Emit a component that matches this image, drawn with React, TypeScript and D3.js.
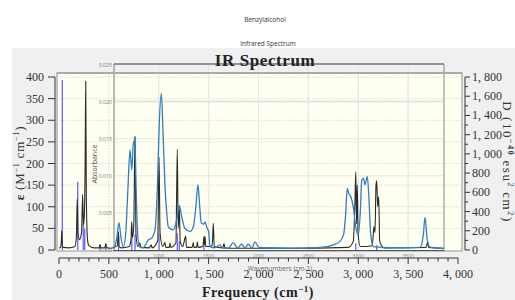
import React from "react";
import * as d3 from "d3";

// ---------- data ----------
// simulated spectrum (black curve), [frequency cm-1, epsilon]
const simCurve: [number, number][] = [
  [0, 4], [15, 6], [23, 18], [27, 45], [31, 18], [40, 6], [100, 5], [160, 8], [174, 30], [183, 118], [191, 38],
  [205, 24], [226, 40], [237, 128], [245, 58], [254, 80], [262, 200], [268, 390], [274, 120], [286, 24], [300, 10],
  [350, 5], [402, 5], [410, 12], [418, 5], [455, 5], [464, 9], [470, 15], [477, 6], [520, 4], [585, 10], [595, 42],
  [603, 8], [625, 5], [705, 8], [722, 25], [729, 65], [737, 28], [750, 60], [762, 262], [771, 40], [790, 8], [812, 16],
  [820, 6], [905, 5], [925, 12], [933, 5], [990, 22], [1003, 215], [1013, 40], [1040, 8], [1063, 17], [1070, 6],
  [1105, 6], [1113, 16], [1120, 6], [1172, 16], [1186, 233], [1195, 50], [1206, 100], [1215, 20], [1240, 8],
  [1270, 32], [1278, 6], [1336, 6], [1346, 17], [1353, 6], [1380, 6], [1387, 19], [1394, 6], [1442, 8], [1454, 31],
  [1459, 12], [1464, 31], [1471, 8], [1536, 10], [1547, 62], [1556, 8], [1642, 5], [1654, 15], [1662, 5], [1720, 4],
  [2300, 4], [2900, 6], [2950, 20], [2968, 120], [2975, 181], [2983, 60], [2990, 150], [2998, 40], [3020, 8],
  [3140, 10], [3158, 54], [3168, 40], [3178, 150], [3185, 160], [3195, 100], [3205, 123], [3215, 20], [3260, 5],
  [3680, 6], [3696, 19], [3705, 6], [3860, 4],
];

// computed transitions (sticks), [frequency cm-1, D 10^-40 esu^2 cm^2]
const stickFreq = [33, 188, 243, 258, 412, 470, 597, 730, 762, 1003, 1186, 1206, 1454, 2975, 3185];
const stickD = [1770, 711, 300, 220, 60, 45, 150, 125, 160, 170, 175, 90, 60, 70, 50];

// experimental absorbance (blue curve), [wavenumber, absorbance]
const expCurve: [number, number][] = [
  [551, 0.0002], [578, 0.0015], [601, 0.0037], [620, 0.0018], [645, 0.00045], [670, 0.0025], [690, 0.008],
  [712, 0.0135], [730, 0.0108], [746, 0.0146], [752, 0.0142], [760, 0.0152], [772, 0.009], [785, 0.0031],
  [805, 0.00045], [845, 0.0003], [870, 0.0008], [895, 0.00135], [929, 0.0016], [962, 0.0027], [985, 0.008],
  [1005, 0.017], [1026, 0.0211], [1045, 0.015], [1063, 0.0085], [1080, 0.005], [1096, 0.0031], [1146, 0.0027],
  [1170, 0.0035], [1186, 0.0045], [1206, 0.006], [1230, 0.0045], [1263, 0.0029], [1313, 0.0025], [1346, 0.0031],
  [1370, 0.0055], [1393, 0.0088], [1410, 0.006], [1427, 0.0036], [1450, 0.0035], [1464, 0.0038], [1480, 0.0031],
  [1500, 0.0025], [1514, 0.00045], [1560, 0.0003], [1590, 0.0005], [1614, 0.0007], [1640, 0.00025], [1700, 0.00025],
  [1747, 0.001], [1790, 0.00025], [1831, 0.0008], [1865, 0.00025], [1898, 0.0008], [1935, 0.00025], [1965, 0.0011],
  [2000, 0.0004], [2100, 0.0003], [2300, 0.00025], [2500, 0.0003], [2617, 0.00035], [2750, 0.0007], [2820, 0.0012],
  [2855, 0.0022], [2872, 0.0045], [2890, 0.0083], [2905, 0.0076], [2925, 0.0072], [2950, 0.0058], [2975, 0.0031],
  [3001, 0.002], [3020, 0.005], [3035, 0.0094], [3051, 0.0097], [3068, 0.0088], [3091, 0.0099], [3108, 0.0067],
  [3124, 0.00225], [3151, 0.00045], [3300, 0.0003], [3500, 0.0003], [3619, 0.00035], [3652, 0.002], [3669, 0.0044],
  [3692, 0.00135], [3719, 0.0004], [3860, 0.0002],
];

const epsTicks = [0, 50, 100, 150, 200, 250, 300, 350, 400];
const dTicks = [0, 200, 400, 600, 800, 1000, 1200, 1400, 1600, 1800];
const freqTicks = [0, 500, 1000, 1500, 2000, 2500, 3000, 3500, 4000];
const absTicks = [0, 0.005, 0.01, 0.015, 0.02, 0.025];
const wnTicks = [1000, 1500, 2000, 2500, 3000, 3500];

// ---------- scales ----------
const x = d3.scaleLinear().domain([0, 4000]).range([59, 458]);
const yE = d3.scaleLinear().domain([0, 400]).range([250, 77]);
const yD = d3.scaleLinear().domain([0, 1800]).range([250, 77]);
const yA = d3.scaleLinear().domain([0, 0.025]).range([250, 64.5]);

const fmtComma = (v: number) => d3.format(",")(v).replace(",", ", ");

const simLine = d3.line<[number, number]>().x((d) => x(d[0])).y((d) => yE(d[1])).curve(d3.curveMonotoneX);
const expLine = d3.line<[number, number]>().x((d) => x(d[0])).y((d) => yA(d[1])).curve(d3.curveMonotoneX);

const SERIF = "'Liberation Serif', 'DejaVu Serif', serif";
const SANS = "'Open Sans', 'Noto Sans', sans-serif";

export default function App() {
  const minorF = d3.range(0, 4001, 100);
  const minorD = d3.range(0, 1801, 100);
  const inner = { l: 114, r: 444, t: 64, b: 251 };
  return (
    <svg width={515} height={300} style={{ position: "absolute", left: 0, top: 0, background: "#fff" }}>
      <rect x={0} y={0} width={515} height={300} fill="#ffffff" />
      <text x={265} y={22} textAnchor="middle" fontFamily={SANS} fontSize={6.5} fill="#333">Benzylalcohol</text>
      <text x={268} y={46} textAnchor="middle" fontFamily={SANS} fontSize={6.5} fill="#333">Infrared Spectrum</text>
      {/* outer panel */}
      <rect x={12} y={48} width={503} height={252} fill="#f0f0f0" />
      <rect x={57} y={73} width={405} height={178} fill="#fffff2" stroke="#b4b4b4" strokeWidth={1.5} />
      {/* outer dotted grid */}
      {epsTicks.slice(1).map((t) => (
        <line key={"ge" + t} x1={57} x2={462} y1={yE(t)} y2={yE(t)} stroke="#cfcfcf" strokeDasharray="1.5,1.5" strokeWidth={0.8} />
      ))}
      {freqTicks.slice(1, -1).map((t) => (
        <line key={"gf" + t} x1={x(t)} x2={x(t)} y1={73} y2={251} stroke="#cfcfcf" strokeDasharray="1.5,1.5" strokeWidth={0.8} />
      ))}
      {/* inner chart grid */}
      {absTicks.slice(1).map((t) => (
        <line key={"ga" + t} x1={inner.l} x2={inner.r} y1={yA(t)} y2={yA(t)} stroke="#e4e4e4" strokeWidth={t === 0.02 ? 2 : 1} />
      ))}
      {wnTicks.map((t) => (
        <line key={"gw" + t} x1={x(t)} x2={x(t)} y1={inner.t} y2={inner.b} stroke="#e6e6e6" strokeWidth={1} />
      ))}
      {/* sticks */}
      {stickFreq.map((f, i) => (
        <line key={"s" + i} x1={x(f)} x2={x(f)} y1={yD(0)} y2={yD(stickD[i])} stroke="#5a5aff" strokeWidth={1.2} />
      ))}
      {/* simulated curve */}
      <path d={simLine(simCurve) || ""} fill="none" stroke="#2a2a2a" strokeWidth={1.1} />
      {/* experimental curve */}
      <path d={expLine(expCurve) || ""} fill="none" stroke="#2f7fc1" strokeWidth={1.3} />
      {/* inner chart frame */}
      <line x1={inner.l} x2={inner.r} y1={inner.t} y2={inner.t} stroke="#777" strokeWidth={1.3} />
      <line x1={inner.l} x2={inner.l} y1={inner.t} y2={inner.b} stroke="#777" strokeWidth={1} />
      <line x1={inner.r} x2={inner.r} y1={inner.t} y2={inner.b} stroke="#888" strokeWidth={1} />
      <line x1={57} x2={462} y1={73} y2={73} stroke="#aaa" strokeWidth={2} />
      <line x1={inner.l} x2={inner.r} y1={250.5} y2={250.5} stroke="#555" strokeWidth={1} />
      {absTicks.map((t) => (
        <text key={"ta" + t} x={112} y={yA(t) + 2} textAnchor="end" fontFamily={SANS} fontSize={5.2} fill="#777">
          {d3.format(".3f")(t)}
        </text>
      ))}
      {wnTicks.map((t) => (
        <text key={"tw" + t} x={x(t)} y={258} textAnchor="middle" fontFamily={SANS} fontSize={5} fill="#888">
          {t}
        </text>
      ))}
      <text transform="translate(97,164) rotate(-90)" textAnchor="middle" fontFamily={SANS} fontSize={7} fill="#555">Absorbance</text>
      {/* title */}
      <text x={265} y={66} textAnchor="middle" fontFamily={SERIF} fontSize={17} fontWeight="bold" fill="#222" letterSpacing={0.6}>IR Spectrum</text>
      {/* left axis */}
      <line x1={55} x2={55} y1={yE(400)} y2={yE(0)} stroke="#333" strokeWidth={1} />
      {epsTicks.map((t) => (
        <g key={"le" + t}>
          <line x1={48} x2={55} y1={yE(t)} y2={yE(t)} stroke="#333" strokeWidth={1} />
          <text x={44} y={yE(t) + 4} textAnchor="end" fontFamily={SERIF} fontSize={12} fill="#333">{t}</text>
        </g>
      ))}
      <text transform="translate(24,163) rotate(-90)" textAnchor="middle" fontFamily={SERIF} fontSize={13} fill="#333" letterSpacing={0.8}>
        <tspan fontWeight="bold">ε</tspan>
        <tspan dx={4}>(M</tspan><tspan fontSize={8} dy={-5}>−1</tspan>
        <tspan dy={5} dx={4}>cm</tspan><tspan fontSize={8} dy={-5}>−1</tspan><tspan dy={5}>)</tspan>
      </text>
      {/* right axis */}
      <line x1={465} x2={465} y1={yD(1800)} y2={yD(0)} stroke="#333" strokeWidth={1} />
      {minorD.map((t) => (
        <line key={"md" + t} x1={465} x2={t % 200 === 0 ? 470 : 468} y1={yD(t)} y2={yD(t)} stroke="#333" strokeWidth={1} />
      ))}
      {dTicks.map((t) => (
        <text key={"rd" + t} x={472} y={yD(t) + 4} fontFamily={SERIF} fontSize={12} fill="#333">{fmtComma(t)}</text>
      ))}
      <text transform="translate(503,162) rotate(90)" textAnchor="middle" fontFamily={SERIF} fontSize={13} fill="#333" letterSpacing={1.6}>
        <tspan>D (10</tspan><tspan fontSize={8} dy={-5} fontWeight="bold">−40</tspan>
        <tspan dy={5} dx={4}>esu</tspan><tspan fontSize={8} dy={-5}>2</tspan>
        <tspan dy={5} dx={4}>cm</tspan><tspan fontSize={8} dy={-5}>2</tspan><tspan dy={5}>)</tspan>
      </text>
      {/* bottom axis */}
      <line x1={x(0)} x2={x(4000)} y1={258} y2={258} stroke="#333" strokeWidth={1} />
      {minorF.map((t) => (
        <line key={"mf" + t} x1={x(t)} x2={x(t)} y1={258} y2={t % 500 === 0 ? 264 : 261.5} stroke="#333" strokeWidth={1} />
      ))}
      {freqTicks.map((t) => (
        <text key={"bf" + t} x={x(t)} y={278} textAnchor="middle" fontFamily={SERIF} fontSize={12} fill="#333">{fmtComma(t)}</text>
      ))}
      <text x={280} y={271} textAnchor="middle" fontFamily={SANS} fontSize={6.5} fill="#666">Wavenumbers (cm-1)</text>
      <text x={258} y={297} textAnchor="middle" fontFamily={SERIF} fontSize={14} fontWeight="bold" fill="#222" letterSpacing={0.5}>
        Frequency (cm<tspan fontSize={9} dy={-5}>−1</tspan><tspan dy={5}>)</tspan>
      </text>
    </svg>
  );
}
